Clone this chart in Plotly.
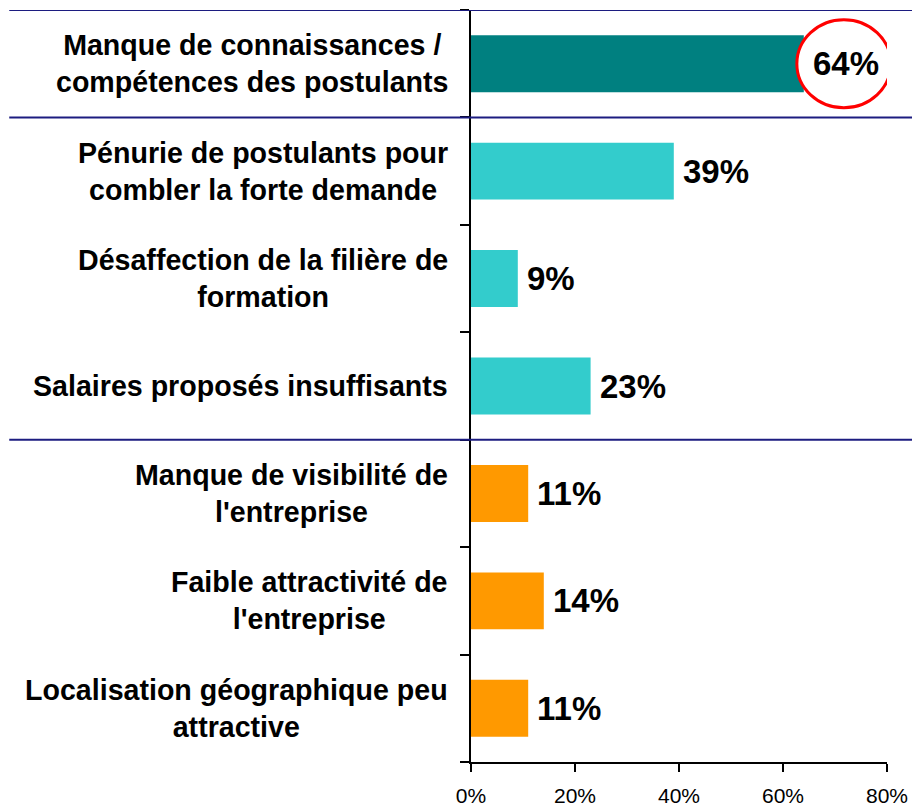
import plotly.graph_objects as go

categories = [
    "Manque de connaissances /<br>compétences des postulants",
    "Pénurie de postulants pour<br>combler la forte demande",
    "Désaffection de la filière de<br>formation",
    "Salaires proposés insuffisants",
    "Manque de visibilité de<br>l'entreprise",
    "Faible attractivité de<br>l'entreprise",
    "Localisation géographique peu<br>attractive",
]
values = [64, 39, 9, 23, 11, 14, 11]
bar_colors = ["#008080", "#33CCCC", "#33CCCC", "#33CCCC", "#FF9900", "#FF9900", "#FF9900"]
value_labels = [f"{v}%" for v in values]
x_ticks = [0, 20, 40, 60, 80]
separator_boundaries = [-0.5, 0.5, 3.5]

FONT = "Liberation Sans, Arial, sans-serif"

fig = go.Figure()
fig.add_trace(go.Bar(
    y=list(range(len(categories))),
    x=values,
    orientation="h",
    marker=dict(color=bar_colors, line=dict(width=0)),
    width=0.53,
    hoverinfo="skip",
))

annotations = []
for i, (v, lab) in enumerate(zip(values, value_labels)):
    annotations.append(dict(
        x=v, y=i, xref="x", yref="y", text=f"<b>{lab}</b>",
        showarrow=False, xanchor="left", yanchor="middle", xshift=7,
        font=dict(family=FONT, size=33, color="black"),
    ))
for i, c in enumerate(categories):
    annotations.append(dict(
        x=0, y=i, xref="paper", yref="y", text=f"<b>{c}</b>",
        showarrow=False, xanchor="right", yanchor="middle", align="center",
        xshift=-21,
        font=dict(family=FONT, size=28.6, color="black"),
    ))

shapes = []
for b in separator_boundaries:
    shapes.append(dict(type="line", xref="paper", yref="y",
                       x0=-1.11, x1=1.1, y0=b, y1=b,
                       line=dict(color="#1C1C80", width=2), layer="above"))

# highlight circle around first value
shapes.append(dict(type="circle", xref="x", yref="y",
                   xsizemode="pixel", ysizemode="pixel",
                   xanchor=71.7, yanchor=0,
                   x0=-47, x1=47, y0=-44, y1=44,
                   line=dict(color="#FF0000", width=3),
                   fillcolor="white", layer="above"))

fig.update_layout(
    width=912, height=806,
    margin=dict(l=471, r=25, t=10, b=44, autoexpand=False),
    paper_bgcolor="white", plot_bgcolor="white",
    showlegend=False,
    font=dict(family=FONT, color="black"),
    annotations=annotations,
    shapes=shapes,
)
fig.update_xaxes(
    range=[0, 80], tickvals=x_ticks, ticktext=[f"{t}%" for t in x_ticks],
    ticks="outside", ticklen=8, tickwidth=2, tickcolor="black",
    showline=True, linecolor="black", linewidth=2,
    showgrid=False, zeroline=False, automargin=False,
    ticklabelstandoff=6,
    tickfont=dict(family=FONT, size=21, color="black"),
)
fig.update_yaxes(
    range=[6.5, -0.5],
    tickvals=list(range(len(categories))),
    ticktext=["" for _ in categories],
    ticks="", showline=True, linecolor="black", linewidth=2,
    minor=dict(tickvals=[i - 0.5 for i in range(len(categories) + 1)],
               ticks="outside", ticklen=9, tickwidth=2, tickcolor="black",
               showgrid=False),
    showgrid=False, zeroline=False, automargin=False,
)

fig.write_html(
    "out.html",
    config={"displayModeBar": False},
    post_script="document.body.style.margin='0';document.body.style.padding='0';document.body.style.overflow='hidden';",
)
